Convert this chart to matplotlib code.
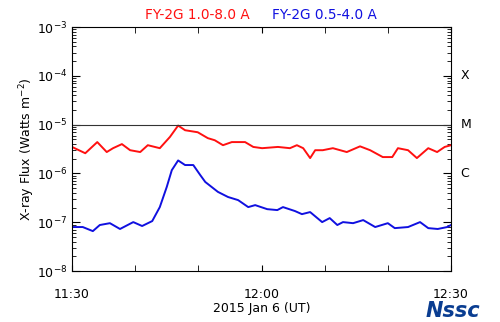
import numpy as np
import matplotlib.pyplot as plt

# minutes after 11:30 UT, 2015 Jan 6
t_long = [0, 2.1, 4.0, 5.5, 6.5, 7.9, 9.2, 10.8, 12.0, 13.9, 15.5, 16.8, 17.9, 19.9,
          21.5, 22.6, 23.9, 25.3, 27.4, 28.7, 30.1, 32.6, 34.5, 35.6, 36.6, 37.7,
          38.5, 39.7, 41.3, 43.5, 45.6, 47.2, 49.2, 50.7, 51.6, 53.2, 54.6, 56.4,
          57.8, 59.0, 60]
flux_long = [3.5e-6, 2.6e-6, 4.4e-6, 2.75e-6, 3.3e-6, 4.0e-6, 3.0e-6, 2.75e-6, 3.8e-6,
             3.3e-6, 5.6e-6, 9.6e-6, 7.7e-6, 7.0e-6, 5.3e-6, 4.8e-6, 3.8e-6, 4.4e-6,
             4.4e-6, 3.5e-6, 3.3e-6, 3.5e-6, 3.3e-6, 3.8e-6, 3.3e-6, 2.07e-6, 3.0e-6,
             3.0e-6, 3.3e-6, 2.75e-6, 3.6e-6, 3.0e-6, 2.17e-6, 2.17e-6, 3.3e-6, 3.0e-6,
             2.07e-6, 3.3e-6, 2.75e-6, 3.5e-6, 3.8e-6]

t_short = [0, 1.7, 3.3, 4.4, 6.0, 7.6, 9.7, 11.1, 12.7, 13.9, 15.0, 15.8, 16.8, 17.9,
           19.2, 20.3, 21.1, 23.1, 24.7, 26.3, 27.9, 29.0, 30.9, 32.5, 33.4, 35.3,
           36.4, 37.7, 39.6, 40.8, 42.0, 42.9, 44.5, 46.1, 48.0, 50.0, 51.1, 53.2,
           55.1, 56.4, 57.9, 59.4, 60]
flux_short = [8.0e-8, 8.0e-8, 6.6e-8, 8.8e-8, 9.6e-8, 7.3e-8, 1.01e-7, 8.4e-8, 1.06e-7,
              2.05e-7, 5.3e-7, 1.17e-6, 1.85e-6, 1.49e-6, 1.49e-6, 9.3e-7, 6.7e-7,
              4.2e-7, 3.3e-7, 2.85e-7, 2.05e-7, 2.25e-7, 1.86e-7, 1.78e-7, 2.05e-7,
              1.70e-7, 1.47e-7, 1.62e-7, 1.01e-7, 1.22e-7, 8.8e-8, 1.01e-7, 9.6e-8,
              1.11e-7, 8.0e-8, 9.6e-8, 7.6e-8, 8.0e-8, 1.01e-7, 7.6e-8, 7.3e-8, 8.0e-8,
              8.8e-8]

time_ticks = [0, 30, 60]
time_labels = ['11:30', '12:00', '12:30']
classes = ['X', 'M', 'C']
class_levels = [1e-4, 1e-5, 1e-6]

fig = plt.figure(figsize=(5, 3.22), dpi=100)
ax = fig.add_axes([0.144, 0.158, 0.758, 0.758])

ax.plot(t_long, flux_long, color='#ff1010', lw=1.4)
ax.plot(t_short, flux_short, color='#1010e0', lw=1.4)
ax.axhline(1e-5, color='#333333', lw=0.8)

ax.set_yscale('log')
ax.set_ylim(1e-8, 1e-3)
ax.set_xlim(0, 60)
ax.set_xticks(time_ticks)
ax.set_xticklabels(time_labels)
ax.set_xticks([10, 20, 40, 50], minor=True)
ax.tick_params(axis='x', which='both', direction='in', top=True, length=4, pad=12,
               labelsize=9)
ax.tick_params(axis='y', which='major', direction='in', right=True, length=6,
               labelsize=9)
ax.tick_params(axis='y', which='minor', direction='in', right=True, length=3)
ax.set_ylabel('X-ray Flux (Watts m$^{-2}$)', fontsize=9, labelpad=0)
ax.set_xlabel('2015 Jan 6 (UT)', fontsize=9, labelpad=1)

for c, lev in zip(classes, class_levels):
    ax.text(1.025, np.interp(np.log10(lev), [-8, -3], [0, 1]), c,
            transform=ax.transAxes, va='center', ha='left', fontsize=9)

fig.text(0.394, 0.953, 'FY-2G 1.0-8.0 A', color='#ff1010', fontsize=9.8, ha='center', va='center')
fig.text(0.648, 0.953, 'FY-2G 0.5-4.0 A', color='#1010e0', fontsize=9.8, ha='center', va='center')
fig.text(0.905, 0.015, 'Nssc', color='#0a3d91', fontsize=15, fontweight='heavy',
         style='italic', ha='center', va='baseline')

fig.savefig('out.png', dpi=100)
